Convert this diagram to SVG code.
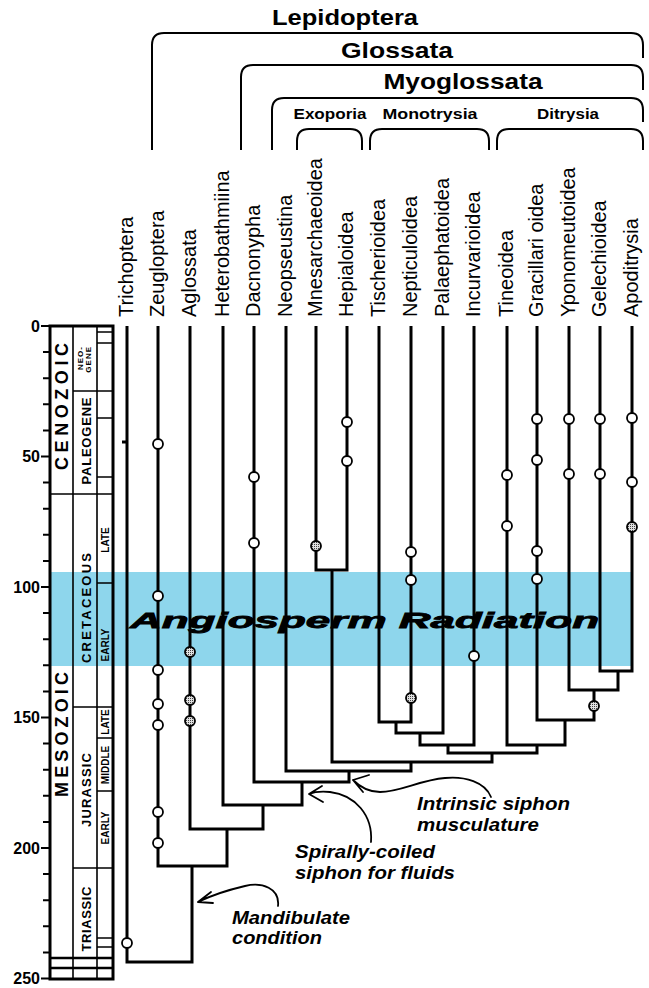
<svg xmlns="http://www.w3.org/2000/svg" width="649" height="988" viewBox="0 0 649 988">
<style>
.f{font-family:"Liberation Sans",Arial,Helvetica,sans-serif}
.tax{font-size:20px}
.hd{font-weight:bold}
.ln{stroke:#000;stroke-width:3;fill:none;stroke-linejoin:miter}
.br{stroke:#000;stroke-width:2;fill:none}
.oc{fill:#fff;stroke:#000;stroke-width:1.8}
.sc{fill:url(#dots);stroke:#000;stroke-width:1.8}
.bx{stroke:#000;fill:none}
.ep{font-size:10px;font-weight:bold}
.pd{font-size:13px;font-weight:bold}
.er{font-size:18px;font-weight:bold}
.num{font-size:16px;font-weight:bold}
.an{font-size:18px;font-weight:bold;font-style:italic}
.ar{stroke:#000;stroke-width:1.8;fill:none;stroke-linecap:round;stroke-linejoin:round}
</style>
<defs>
<pattern id="dots" width="2" height="2" patternUnits="userSpaceOnUse"><rect width="2" height="2" fill="#e0e0e0"/><rect width="1" height="1" fill="#444"/></pattern>
</defs>
<rect width="649" height="988" fill="#fff"/>
<!-- angiosperm band -->
<rect id="band" x="50" y="572" width="582" height="94" fill="#8ed6ec"/>

<!-- time scale -->
<g id="timescale" class="f">
<g class="bx" stroke-width="1.2">
<path d="M43,352.1H50M43,378.2H50M43,404.3H50M43,430.4H50M41,456.5H50M43,482.6H50M43,508.7H50M43,534.8H50M43,560.9H50M41,587H50M43,613.1H50M43,639.2H50M43,665.3H50M43,691.4H50M41,717.5H50M43,743.6H50M43,769.7H50M43,795.8H50M43,821.9H50M41,848H50M43,874.1H50M43,900.2H50M43,926.3H50M43,952.4H50M41,978.5H50M41,326H50" stroke-width="2"/>
</g>
<g class="bx" stroke-width="1.6">
<path d="M73,326V979M97,326V979"/>
<path d="M50,494H113M73,391H113M73,707H113M73,868H113M97,332H113M97,343H113M97,418H113M97,477H113M97,583H113M97,738H113M97,791H113M97,938H113M97,947H113"/>
<path d="M50,958H113M50,968H113" stroke-width="2.5"/>
</g>
<rect x="50" y="326" width="63" height="653" class="bx" stroke-width="3"/>
<g class="num" text-anchor="end">
<text x="40" y="332">0</text>
<text x="40" y="462">50</text>
<text x="40" y="593">100</text>
<text x="40" y="723">150</text>
<text x="40" y="854">200</text>
<text x="40" y="984">250</text>
</g>
<text class="er" transform="translate(68,406.5) rotate(-90)" text-anchor="middle" textLength="127" lengthAdjust="spacing">CENOZOIC</text>
<text class="er" transform="translate(68,734.5) rotate(-90)" text-anchor="middle" textLength="125" lengthAdjust="spacing">MESOZOIC</text>
<text class="hd" font-size="8" transform="translate(82.5,346) rotate(-90)" text-anchor="end" letter-spacing="1">NEO-</text>
<text class="hd" font-size="8" transform="translate(91,346) rotate(-90)" text-anchor="end" letter-spacing="1">GENE</text>
<text class="pd" transform="translate(90.5,441) rotate(-90)" text-anchor="middle" textLength="87" lengthAdjust="spacing">PALEOGENE</text>
<text class="pd" transform="translate(90.5,608) rotate(-90)" text-anchor="middle" textLength="110" lengthAdjust="spacing">CRETACEOUS</text>
<text class="pd" transform="translate(90.5,790) rotate(-90)" text-anchor="middle" textLength="74" lengthAdjust="spacing">JURASSIC</text>
<text class="pd" transform="translate(90.5,919) rotate(-90)" text-anchor="middle" textLength="65" lengthAdjust="spacing">TRIASSIC</text>
<text class="ep" transform="translate(109,540) rotate(-90)" text-anchor="middle">LATE</text>
<text class="ep" transform="translate(109,645) rotate(-90)" text-anchor="middle">EARLY</text>
<text class="ep" transform="translate(109,722) rotate(-90)" text-anchor="middle">LATE</text>
<text class="ep" transform="translate(109,765) rotate(-90)" text-anchor="middle">MIDDLE</text>
<text class="ep" transform="translate(109,828) rotate(-90)" text-anchor="middle">EARLY</text>
</g>

<!-- group brackets -->
<g id="brackets" class="f">
<path class="br" d="M152,150V45Q152,33 164,33H631Q643,33 643,45V58"/>
<path class="br" d="M241,150V77Q241,65 253,65H631Q643,65 643,77V90"/>
<path class="br" d="M272,150V110Q272,98 284,98H631Q643,98 643,110V122"/>
<path class="br" d="M297,150V141Q297,129 309,129H350Q362,129 362,141V150"/>
<path class="br" d="M370,150V141Q370,129 382,129H477Q489,129 489,141V150"/>
<path class="br" d="M497,150V141Q497,129 509,129H631Q643,129 643,141V150"/>
<text class="hd" x="345" y="25" font-size="22" text-anchor="middle" textLength="146" lengthAdjust="spacingAndGlyphs">Lepidoptera</text>
<text class="hd" x="397" y="58" font-size="22" text-anchor="middle" textLength="112" lengthAdjust="spacingAndGlyphs">Glossata</text>
<text class="hd" x="463" y="89" font-size="22" text-anchor="middle" textLength="159" lengthAdjust="spacingAndGlyphs">Myoglossata</text>
<text class="hd" x="330" y="119" font-size="15.5" text-anchor="middle" textLength="73" lengthAdjust="spacingAndGlyphs">Exoporia</text>
<text class="hd" x="430" y="119" font-size="15.5" text-anchor="middle" textLength="95" lengthAdjust="spacingAndGlyphs">Monotrysia</text>
<text class="hd" x="568" y="119" font-size="15.5" text-anchor="middle" textLength="62" lengthAdjust="spacingAndGlyphs">Ditrysia</text>
</g>

<!-- taxon nodes (labels) -->
<g class="f tax">
<g id="n-trichoptera"><text transform="translate(133,317) rotate(-90)">Trichoptera</text></g>
<g id="n-zeugloptera"><text transform="translate(164,317) rotate(-90)">Zeugloptera</text></g>
<g id="n-aglossata"><text transform="translate(196,317) rotate(-90)">Aglossata</text></g>
<g id="n-heterobathmiina"><text transform="translate(229,317) rotate(-90)">Heterobathmiina</text></g>
<g id="n-dacnonypha"><text transform="translate(260,317) rotate(-90)">Dacnonypha</text></g>
<g id="n-neopseustina"><text transform="translate(292,317) rotate(-90)">Neopseustina</text></g>
<g id="n-mnesarchaeoidea"><text transform="translate(322,317) rotate(-90)">Mnesarchaeoidea</text></g>
<g id="n-hepialoidea"><text transform="translate(353,317) rotate(-90)">Hepialoidea</text></g>
<g id="n-tischerioidea"><text transform="translate(385,317) rotate(-90)">Tischerioidea</text></g>
<g id="n-nepticuloidea"><text transform="translate(417,317) rotate(-90)">Nepticuloidea</text></g>
<g id="n-palaephatoidea"><text transform="translate(449,317) rotate(-90)">Palaephatoidea</text></g>
<g id="n-incurvarioidea"><text transform="translate(480,317) rotate(-90)">Incurvarioidea</text></g>
<g id="n-tineoidea"><text transform="translate(513,317) rotate(-90)">Tineoidea</text></g>
<g id="n-gracillarioidea"><text transform="translate(543,317) rotate(-90)">Gracillari oidea</text></g>
<g id="n-yponomeutoidea"><text transform="translate(575,317) rotate(-90)">Yponomeutoidea</text></g>
<g id="n-gelechioidea"><text transform="translate(606,317) rotate(-90)">Gelechioidea</text></g>
<g id="n-apoditrysia"><text transform="translate(638,317) rotate(-90)">Apoditrysia</text></g>
</g>

<!-- connectors (tree) -->
<g id="connectors">
<path class="ln" d="M127,326V962H192V866"/>
<path class="ln" d="M158,326V866H227V829"/>
<path class="ln" d="M190,326V829H263V805"/>
<path class="ln" d="M223,326V805H302V782"/>
<path class="ln" d="M254,326V782H349V771"/>
<path class="ln" d="M286,326V771H411V762"/>
<path class="ln" d="M316,326V570H347V326M332,570V762H492V753"/>
<path class="ln" d="M379,326V722H411V326M396,722V733H443V326M420,733V745H474V326M448,745V753H537V745"/>
<path class="ln" d="M600,326V671H632V326M618,671V690H569V326M594,690V720H537V326M565,720V745H507V326"/>
<path class="ln" d="M122,442H127" stroke-width="2"/>
</g>

<!-- character state circles -->
<g id="characters">
<circle class="oc" cx="127" cy="943" r="5"/>
<circle class="oc" cx="158" cy="444" r="5"/>
<circle class="oc" cx="158" cy="596" r="5"/>
<circle class="oc" cx="158" cy="670" r="5"/>
<circle class="oc" cx="158" cy="704" r="5"/>
<circle class="oc" cx="158" cy="725" r="5"/>
<circle class="oc" cx="158" cy="812" r="5"/>
<circle class="oc" cx="158" cy="843" r="5"/>
<circle class="sc" cx="190" cy="652" r="5"/>
<circle class="sc" cx="190" cy="700" r="5"/>
<circle class="sc" cx="190" cy="721" r="5"/>
<circle class="oc" cx="254" cy="477" r="5"/>
<circle class="oc" cx="254" cy="543" r="5"/>
<circle class="sc" cx="316" cy="546" r="5"/>
<circle class="oc" cx="347" cy="422" r="5"/>
<circle class="oc" cx="347" cy="461" r="5"/>
<circle class="oc" cx="411" cy="552" r="5"/>
<circle class="oc" cx="411" cy="580" r="5"/>
<circle class="sc" cx="411" cy="698" r="5"/>
<circle class="oc" cx="474" cy="656" r="5"/>
<circle class="oc" cx="507" cy="475" r="5"/>
<circle class="oc" cx="507" cy="526" r="5"/>
<circle class="oc" cx="537" cy="419" r="5"/>
<circle class="oc" cx="537" cy="460" r="5"/>
<circle class="oc" cx="537" cy="551" r="5"/>
<circle class="oc" cx="537" cy="579" r="5" stroke-width="2.4"/>
<circle class="oc" cx="569" cy="419" r="5"/>
<circle class="oc" cx="569" cy="474" r="5"/>
<circle class="oc" cx="600" cy="419" r="5"/>
<circle class="oc" cx="600" cy="474" r="5"/>
<circle class="oc" cx="632" cy="418" r="5"/>
<circle class="oc" cx="632" cy="482" r="5"/>
<circle class="sc" cx="632" cy="527" r="5"/>
<circle class="sc" cx="594" cy="706" r="5"/>
</g>

<text id="angiosperm" class="f" x="130" y="628" font-size="22" font-weight="bold" font-style="italic" stroke="#000" stroke-width="0.8" textLength="469" lengthAdjust="spacingAndGlyphs">Angiosperm Radiation</text>

<!-- annotations -->
<g id="ann-mandibulate" class="f">
<path class="ar" d="M278,906C280,888 262,882 245,886C228,890 210,896 198,902M211,892L198,902L213,903"/>
<text class="an" x="232" y="924" textLength="118" lengthAdjust="spacingAndGlyphs">Mandibulate</text>
<text class="an" x="232" y="944" textLength="90" lengthAdjust="spacingAndGlyphs">condition</text>
</g>
<g id="ann-spirally" class="f">
<path class="ar" d="M371,842C373,815 355,795 330,792C320,791 314,792 309,794M322,786L309,794L323,802"/>
<text class="an" x="295" y="858" textLength="140" lengthAdjust="spacingAndGlyphs">Spirally-coiled</text>
<text class="an" x="295" y="879" textLength="160" lengthAdjust="spacingAndGlyphs">siphon for fluids</text>
</g>
<g id="ann-intrinsic" class="f">
<path class="ar" d="M491,797C485,782 465,776 445,778C420,780 400,792 380,792C368,792 360,787 353,780M369,775L353,780L363,792"/>
<text class="an" x="417" y="810" textLength="153" lengthAdjust="spacingAndGlyphs">Intrinsic siphon</text>
<text class="an" x="417" y="831" textLength="122" lengthAdjust="spacingAndGlyphs">musculature</text>
</g>
</svg>
